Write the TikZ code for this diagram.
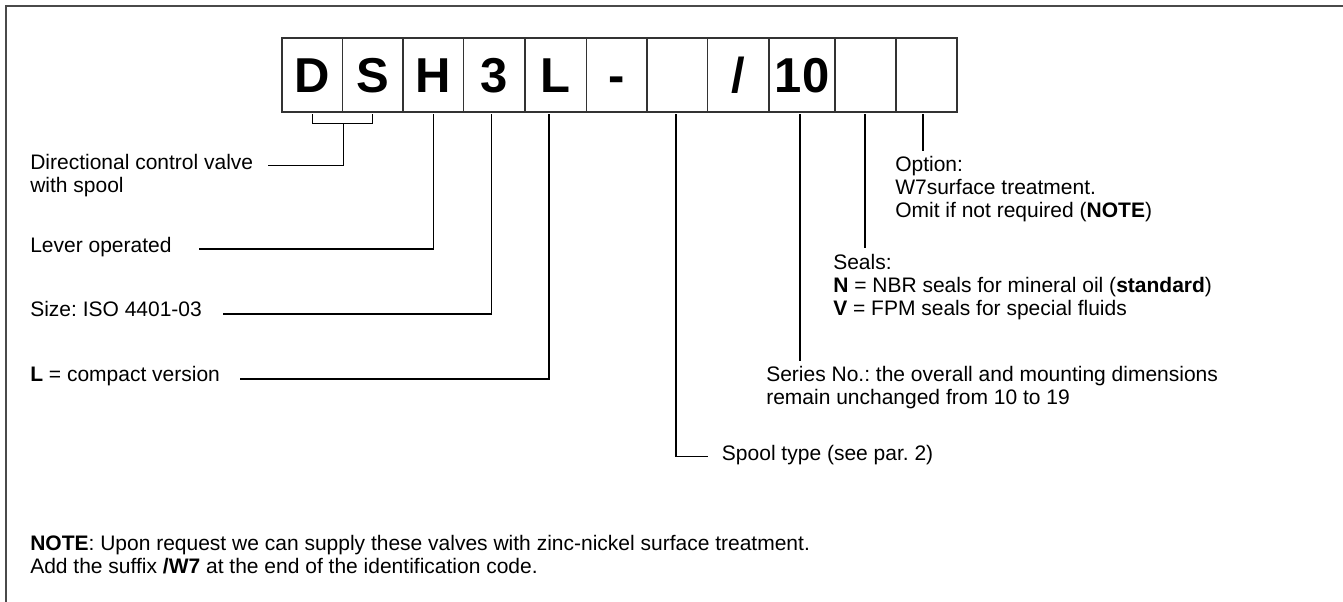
\documentclass[tikz,border=0pt]{standalone}
\usepackage{fontspec}
\setmainfont{Liberation Sans}
\frenchspacing
\definecolor{framegray}{HTML}{4A4A4A}
\definecolor{boxgray}{HTML}{333333}
\newcommand{\lblfont}{\fontsize{15.75}{17.25}\selectfont}
\newcommand{\codefont}{\fontsize{36.75}{40}\selectfont\bfseries}
\newcommand{\ml}[1]{\begin{tabular}[t]{@{}l@{}}#1\end{tabular}}
\begin{document}
\frenchspacing
\begin{tikzpicture}[x=0.75pt,y=-0.75pt,
  codebox/.style={draw=boxgray,line width=1.1pt,inner sep=0pt,minimum height=55.5pt,
    text height=26.3pt,text depth=0pt,font=\codefont,text=black},
  lbl/.style={anchor=base west,inner sep=0pt,font=\lblfont,text=black},
  conn/.style={draw=black,line width=0.95pt}]
\useasboundingbox (0,0) rectangle (1343,602);
% outer frame (top and left edges)
\draw[framegray,line width=2pt] (6,602) -- (6,6) -- (1343,6);
% code boxes
\node[codebox,minimum width=60.5*0.75pt] (bD) at (312.25,75) {D};
\node[codebox,minimum width=60.5*0.75pt] (bS) at (372.75,75) {S};
\node[codebox,minimum width=60.5*0.75pt] (bH) at (433.25,75) {H};
\node[codebox,minimum width=61.5*0.75pt] (b3) at (494.25,75) {3};
\node[codebox,minimum width=61.5*0.75pt] (bL) at (555.75,75) {L};
\node[codebox,minimum width=60.5*0.75pt] (bDash) at (616.75,75) {-};
\node[codebox,minimum width=60.5*0.75pt] (bSpool) at (677.25,75) {};
\node[codebox,minimum width=61.5*0.75pt] (bSlash) at (738.25,75) {/};
\node[codebox,minimum width=66*0.75pt] (bTen) at (802,75) {10};
\node[codebox,minimum width=61*0.75pt] (bSeal) at (865.5,75) {};
\node[codebox,minimum width=61*0.75pt] (bOpt) at (926.5,75) {};
% labels
\node[lbl] (lDir) at (30,169.5) {\ml{Directional control valve\\with spool}};
\node[lbl] (lLev) at (30,252.5) {Lever operated};
\node[lbl] (lSize) at (30,317) {Size: ISO 4401-03};
\node[lbl] (lL) at (30,382) {\textbf{L} = compact version};
\node[lbl] (lSpool) at (721.7,460.5) {Spool type (see par. 2)};
\node[lbl] (lSer) at (766,381.7) {\ml{Series No.: the overall and mounting dimensions\\remain unchanged from 10 to 19}};
\node[lbl] (lSeal) at (833,269.3) {\ml{Seals:\\\textbf{N} = NBR seals for mineral oil (\textbf{standard})\\\textbf{V} = FPM seals for special fluids}};
\node[lbl] (lOpt) at (895,171.7) {\ml{Option:\\W7surface treatment.\\Omit if not required (\textbf{NOTE})}};
\node[lbl] (lNote) at (30,550) {\ml{\textbf{NOTE}: Upon request we can supply these valves with zinc-nickel surface treatment.\\Add the suffix \textbf{/W7} at the end of the identification code.}};
% connector free ends
\coordinate (eDir) at (268,165.7);
\coordinate (eLev) at (199,249);
\coordinate (eSize) at (223,314);
\coordinate (eL) at (239.5,379);
\coordinate (eSpool) at (707.7,456.7);
\coordinate (eSer) at (800,360.7);
\coordinate (eSeal) at (865,248.3);
\coordinate (eOpt) at (923,150.7);
% connectors
\draw[conn] ([yshift=-1pt]bD.south) -- ++(0,9.5) coordinate (brk) -| ([yshift=-1pt]bS.south);
\draw[conn] (bD.east |- brk) |- (eDir);
\draw[conn] ([yshift=-1.2pt]bH.south) |- (eLev);
\draw[conn] ([xshift=-2.25pt,yshift=-1.2pt]b3.south) |- (eSize);
\draw[conn] ([xshift=-5pt,yshift=-1.2pt]bL.south) |- (eL);
\draw[conn] ([xshift=-0.9pt,yshift=-1.2pt]bSpool.south) |- (eSpool);
\draw[conn] ([yshift=-1.2pt]bTen.south -| eSer) -- (eSer);
\draw[conn] ([yshift=-1.2pt]bSeal.south -| eSeal) -- (eSeal);
\draw[conn] ([yshift=-1.2pt]bOpt.south -| eOpt) -- (eOpt);
\end{tikzpicture}
\end{document}
